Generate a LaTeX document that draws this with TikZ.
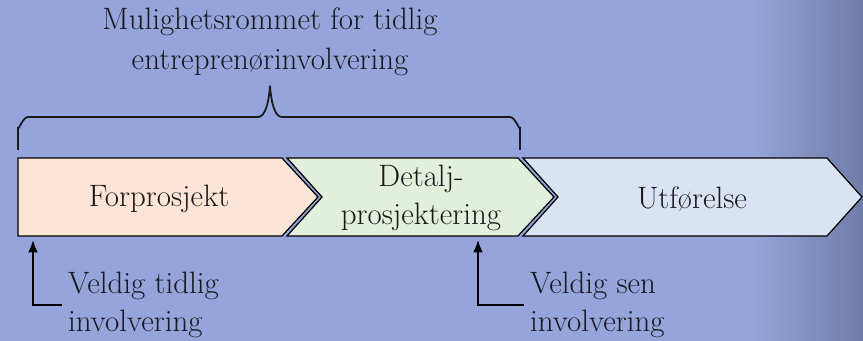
\documentclass[tikz,border=0pt]{standalone}
\usetikzlibrary{arrows.meta,positioning}
\definecolor{bakgrunn}{RGB}{149,165,220}
\definecolor{morkbla}{RGB}{112,124,168}
\definecolor{fersken}{RGB}{252,228,214}
\definecolor{lysgronn}{RGB}{226,239,218}
\definecolor{lysbla}{RGB}{218,227,243}
\tikzset{
  fase/.style={draw=black,line width=0.7pt},
  tekst/.style={font=\fontsize{17.6}{21.5}\selectfont,align=center,text=black!90},
  pil/.style={-{Latex[length=2.5mm,width=2mm]},line width=1.1pt},
  klamme/.style={line width=1pt,black!90},
}

\begin{document}
\begin{tikzpicture}[x=0.02cm,y=-0.02cm]
  \fill[bakgrunn] (0,0) rectangle (863,341);
  \shade[left color=bakgrunn,right color=morkbla] (750,0) rectangle (863,341);
  \useasboundingbox (0,0) rectangle (863,341);
  % faser
  \draw[fase,fill=fersken] (18,158) -- (282,158) -- (318,197) -- (282,236) -- (18,236) -- cycle;
  \draw[fase,fill=lysgronn] (287,158) -- (518,158) -- (554,197) -- (518,236) -- (287,236) -- (322,197) -- cycle;
  \draw[fase,fill=lysbla] (523,158) -- (827,158) -- (862,197) -- (827,236) -- (523,236) -- (558,197) -- cycle;
  \node[tekst] (forprosjekt) at (159,199) {Forprosjekt};
  \node[tekst] (detalj) at (421,198) {Detalj-\\prosjektering};
  \node[tekst] (utforelse) at (692,199) {Utførelse};
  % klamme
  \node[tekst,font=\fontsize{17.6}{23}\selectfont] (mulighet) at (270,42) {Mulighetsrommet for tidlig\\entreprenørinvolvering};
  \draw[klamme] (18,150) -- (18,127) to[out=-90,in=180] (28,117) -- (258,117)
    to[out=0,in=90] (270,88) to[out=90,in=180] (282,117) -- (510,117)
    to[out=0,in=-90] (520,127) -- (520,150);
  % involvering
  \node[tekst,align=left,anchor=west] (tidlig) at (62,305) {Veldig tidlig\\involvering};
  \node[tekst,align=left,anchor=west] (sen) at (524,305) {Veldig sen\\involvering};
  \coordinate (tidligpil) at (33,240);
  \coordinate (senpil) at (478,240);
  \draw[pil] (tidlig.west) -| (tidligpil);
  \draw[pil] (sen.west) -| (senpil);
\end{tikzpicture}
\end{document}
